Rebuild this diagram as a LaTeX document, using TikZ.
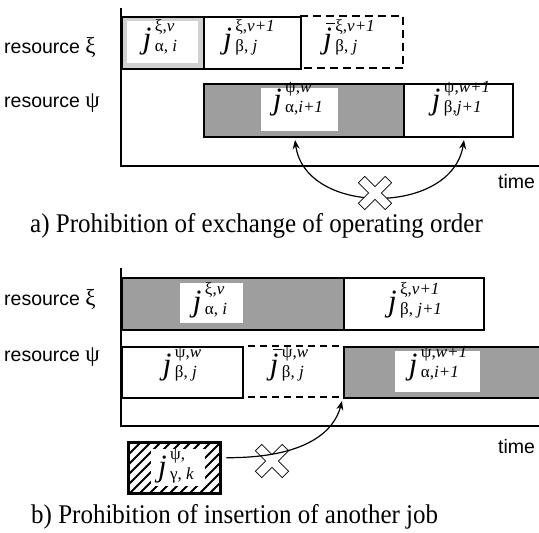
\documentclass[tikz,border=0pt]{standalone}
\usepackage{fontspec}
\setmainfont{Liberation Serif}
\newfontfamily\labelsans{Liberation Sans}
\usetikzlibrary{arrows.meta}

% job symbol: #1 main letter, #2 superscript, #3 subscript (stacked, left aligned)
\newcommand\jobsym[3]{%
  {\fontsize{31}{31}\selectfont\itshape #1}\kern3.5pt
  {\fontsize{17}{17}\selectfont
   \setbox0\hbox{#2}\setbox2\hbox{#3}%
   \ifdim\wd0>\wd2 \dimen0=\wd0 \else\dimen0=\wd2 \fi
   \hbox to\dimen0{\rlap{\raise17pt\box0}\lower3pt\box2\hss}}}
% j with a bar over it
\newcommand\barj{\rlap{\raise24pt\hbox{\kern3pt\vrule width 9pt height 1.2pt}}j}

\definecolor{lightshade}{gray}{0.82}
\definecolor{darkshade}{gray}{0.62}

\tikzset{
  axis/.style={line width=2pt},
  jobbox/.style={draw, line width=2pt, inner sep=0pt, anchor=north west},
  slot/.style={inner sep=0pt, anchor=north west},
  dashline/.style={line width=2pt, dash pattern=on 8pt off 5pt},
  jlabel/.style={inner sep=0pt, anchor=base},
  reslabel/.style={inner sep=0pt, anchor=base west, font=\labelsans\fontsize{19.5}{20}\selectfont},
  caption/.style={inner sep=0pt, anchor=base west, font=\fontsize{27}{28}\selectfont},
  conn/.style={line width=1.2pt},
  crossmark/.pic={
    \draw[line width=0.8pt, fill=white, rotate=45]
      (4.5,4.5) -- (19,4.5) -- (19,-4.5) -- (4.5,-4.5) -- (4.5,-19) -- (-4.5,-19)
      -- (-4.5,-4.5) -- (-19,-4.5) -- (-19,4.5) -- (-4.5,4.5) -- (-4.5,19) -- (4.5,19) -- cycle;
  }
}
\newcommand\greekmark[1]{{\rmfamily\fontsize{23}{23}\selectfont #1}}

\begin{document}
\begin{tikzpicture}[x=1pt,y=-1pt]
\useasboundingbox (0,0) rectangle (539,533);
\clip (0,0) rectangle (539,533);

%% ---------- a) exchange of operating order ----------
\node[reslabel] (ra1) at (4,53) {resource \greekmark{ξ}};
\node[reslabel] (ra2) at (4,107) {resource \greekmark{ψ}};

\node[jobbox, fill=lightshade, minimum width=82pt, minimum height=52pt] (a1) at (121,16) {};
\node[jobbox, minimum width=97pt, minimum height=52pt] (a2) at (203,16) {};
\node[slot, minimum width=103pt, minimum height=52pt] (a3) at (300,16) {};
\draw[dashline] (a3.north west) -- (a3.north east) -- (a3.south east) -- (a3.south west);
\node[jobbox, fill=darkshade, minimum width=200pt, minimum height=53pt] (a4) at (203,83) {};
\node[jobbox, minimum width=109pt, minimum height=53pt] (a5) at (403,83) {};

\fill[white] (127,21) rectangle (198,63);
\fill[white] (261,88) rectangle (338,131);

\coordinate (atop) at (121,8);
\coordinate (aend) at (541,166);
\draw[axis] (atop) |- (aend);

\node[jlabel] (a1t) at (160,48) {\jobsym{j}{ξ,\textit{ν}}{α, \textit{i}}};
\node[jlabel] (a2t) at (249,48) {\jobsym{j}{ξ,\textit{ν+1}}{β, \textit{j}}};
\node[jlabel] (a3t) at (349,48) {\jobsym{\barj}{ξ,\textit{ν+1}}{β, \textit{j}}};
\node[jlabel] (a4t) at (298,109) {\jobsym{j}{ψ,\textit{w}}{α,\textit{i+1}}};
\node[jlabel] (a5t) at (461,109) {\jobsym{j}{ψ,\textit{w+1}}{β,\textit{j+1}}};

\node[reslabel] (ta) at (498,188) {time};

\coordinate (al) at (295,140);
\coordinate (ar) at (464,140);
\draw[conn, {Stealth[length=9pt,width=7pt]}-{Stealth[length=9pt,width=7pt]}]
  (al) .. controls (305,216) and (452,216) .. (ar);
\pic at (375,193) {crossmark};

\node[caption] (capa) at (30,232) {\scalebox{0.926}[1]{a) Prohibition of exchange of operating order}};

%% ---------- b) insertion of another job ----------
\node[reslabel] (rb1) at (4,305) {resource \greekmark{ξ}};
\node[reslabel] (rb2) at (4,361) {resource \greekmark{ψ}};

\node[jobbox, fill=darkshade, minimum width=222pt, minimum height=52pt] (b1) at (121,277) {};
\node[jobbox, minimum width=140pt, minimum height=52pt] (b2) at (343,277) {};
\node[jobbox, minimum width=121pt, minimum height=51pt] (b3) at (121,346) {};
\node[slot, minimum width=92pt, minimum height=51pt] (b4) at (248,346) {};
\draw[dashline, dash pattern=on 7pt off 5pt] (b4.north west) -- (b4.north east);
\draw[dashline, dash pattern=on 7pt off 5pt] (b4.south west) -- (b4.south east);
\node[jobbox, fill=darkshade, minimum width=204pt, minimum height=51pt] (b5) at (343,346) {};

\fill[white] (180,283) rectangle (243,323);
\fill[white] (395,351) rectangle (480,392);

\coordinate (btop) at (121,268);
\coordinate (bend) at (541,426);
\draw[axis] (btop) |- (bend);

\node[jlabel] (b1t) at (210,311) {\jobsym{j}{ξ,\textit{ν}}{α, \textit{i}}};
\node[jlabel] (b2t) at (415,311) {\jobsym{j}{ξ,\textit{ν+1}}{β, \textit{j+1}}};
\node[jlabel] (b3t) at (182,374) {\jobsym{j}{ψ,\textit{w}}{β, \textit{j}}};
\node[jlabel] (b4t) at (289,374) {\jobsym{\barj}{ψ,\textit{w}}{β, \textit{j}}};
\node[jlabel] (b5t) at (438,374) {\jobsym{j}{ψ,\textit{w+1}}{α,\textit{i+1}}};

\node[reslabel] (tb) at (498,453) {time};

% hatched job waiting to be inserted
\node[slot, minimum width=92pt, minimum height=51pt] (hb) at (128,442) {};
\begin{scope}
  \clip (hb.south west) rectangle (hb.north east);
  \foreach \i in {-60,-50,...,100}
    \draw[line width=2pt] (128+\i,495) -- ++(55,-55);
\end{scope}
\fill[white] (151,449) rectangle (205,486);
\draw[line width=3pt] (hb.south west) rectangle (hb.north east);
\node[jlabel] (hbt) at (176,476) {\jobsym{j}{ψ,}{γ, \textit{k}}};

\coordinate (btip) at (342,401);
\pic at (272,461) {crossmark};
\draw[conn, -{Stealth[length=9pt,width=7pt]}]
  ([shift={(6,-10)}]hb.east) .. controls (305,458) and (334,432) .. (btip);

\node[caption] (capb) at (31,523) {\scalebox{0.926}[1]{b) Prohibition of insertion of another job}};
\end{tikzpicture}
\end{document}
